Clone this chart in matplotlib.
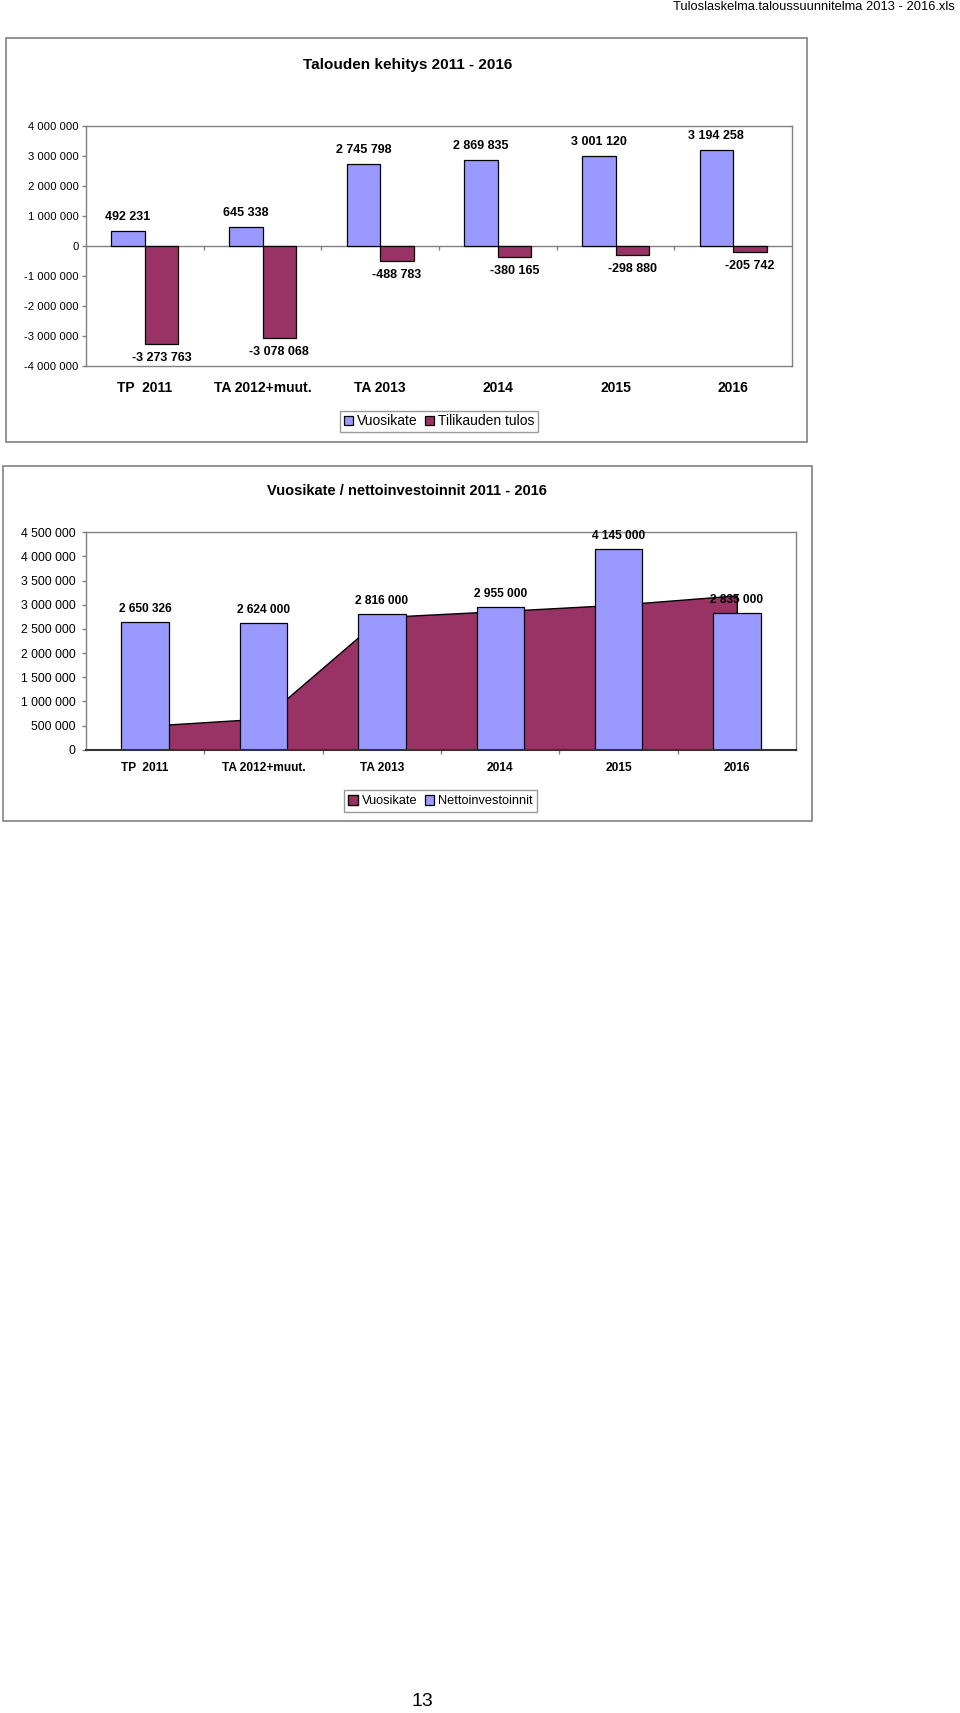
import numpy as np
import matplotlib
matplotlib.use("Agg")
import matplotlib.pyplot as plt
from matplotlib.patches import Rectangle

plt.rcParams["font.family"] = ["Liberation Sans", "DejaVu Sans"]

categories = ["TP  2011", "TA 2012+muut.", "TA 2013", "2014", "2015", "2016"]
vuosikate = [492231, 645338, 2745798, 2869835, 3001120, 3194258]
tilikauden_tulos = [-3273763, -3078068, -488783, -380165, -298880, -205742]
nettoinvestoinnit = [2650326, 2624000, 2816000, 2955000, 4145000, 2835000]

title1 = "Talouden kehitys 2011 - 2016"
title2 = "Vuosikate / nettoinvestoinnit 2011 - 2016"
header = "Tuloslaskelma.taloussuunnitelma 2013 - 2016.xls"
page_no = "13"

BLUE = "#9999FF"
MAROON = "#993366"
GRAY = "#808080"

W, H = 960, 1713


def fmt(v):
    return f"{int(v):,}".replace(",", " ")


def fx(px):
    return px / W


def fy(py):
    return 1 - py / H


def add_axes_px(left, top, right, bottom):
    return fig.add_axes([fx(left), fy(bottom), (right - left) / W, (bottom - top) / H])


def add_frame(left, top, right, bottom):
    fig.patches.append(Rectangle((fx(left), fy(bottom)), (right - left) / W, (bottom - top) / H,
                                 transform=fig.transFigure, fill=False, edgecolor=GRAY, lw=1.2))


fig = plt.figure(figsize=(W / 100, H / 100), dpi=100)

fig.text(fx(955), fy(7), header, ha="right", va="center", fontsize=9.3)
fig.text(fx(422.5), fy(1702), page_no, ha="center", va="center", fontsize=14)

# ---- chart 1: grouped bars ----
add_frame(5.7, 38.3, 807.3, 441.7)
fig.text(fx(408), fy(64.5), title1, ha="center", va="center", fontsize=11, fontweight="bold")

ax1 = add_axes_px(86, 126, 792, 366)
x = np.arange(len(categories))
w = 0.2857
b1 = ax1.bar(x - w / 2, vuosikate, w, color=BLUE, edgecolor="black", lw=0.9, label="Vuosikate", zorder=3)
b2 = ax1.bar(x + w / 2, tilikauden_tulos, w, color=MAROON, edgecolor="black", lw=0.9,
             label="Tilikauden tulos", zorder=3)
ax1.set_xlim(-0.5, 5.5)
ax1.set_ylim(-4e6, 4e6)
ax1.set_yticks(np.arange(-4e6, 4.1e6, 1e6))
ax1.set_yticklabels([fmt(v) for v in np.arange(-4e6, 4.1e6, 1e6)], fontsize=8.1)
ax1.axhline(0, color=GRAY, lw=1, zorder=2)
ax1.vlines(x[:-1] + 0.5, 0, -1.3e5, color=GRAY, lw=1, zorder=2)
ax1.set_xticks(x)
ax1.set_xticklabels(categories, fontsize=10, fontweight="bold")
ax1.tick_params(axis="x", length=0, pad=15.6)
for t in ax1.get_xticklabels():
    t.set_va("center")
ax1.tick_params(axis="y", length=3, width=1, color=GRAY, pad=2.2)
for s in ax1.spines.values():
    s.set_color(GRAY)
    s.set_linewidth(1)

for xi, v in zip(x, vuosikate):
    ax1.annotate(fmt(v), (xi - w / 2, v), xytext=(0, 10), textcoords="offset points",
                 ha="center", va="center", fontsize=9, fontweight="bold")
for xi, v in zip(x, tilikauden_tulos):
    ax1.annotate(fmt(v), (xi + w / 2, v), xytext=(0, -10), textcoords="offset points",
                 ha="center", va="center", fontsize=9, fontweight="bold")

leg1 = ax1.legend(handles=[b1, b2], loc="center", bbox_to_anchor=(fx(439), fy(421.3)),
                  bbox_transform=fig.transFigure, ncol=2, fontsize=10, frameon=True,
                  fancybox=False, edgecolor=GRAY, borderpad=0.25, handlelength=0.65,
                  handleheight=0.7, handletextpad=0.3, columnspacing=0.5)
leg1.get_frame().set_linewidth(1)

# ---- chart 2: area + bars ----
add_frame(3.3, 466, 811.7, 820.7)
fig.text(fx(407), fy(491), title2, ha="center", va="center", fontsize=10.5, fontweight="bold")

ax2 = add_axes_px(86, 532.3, 796, 749.7)
area = ax2.fill_between(x, vuosikate, color=MAROON, edgecolor="black", lw=1, zorder=1,
                        label="Vuosikate")
bars = ax2.bar(x, nettoinvestoinnit, 0.4, color=BLUE, edgecolor="black", lw=0.9, zorder=2,
               label="Nettoinvestoinnit")
ax2.set_xlim(-0.5, 5.5)
ax2.set_ylim(0, 4.5e6)
yt2 = np.arange(0, 4.51e6, 5e5)
ax2.set_yticks(yt2)
ax2.set_yticklabels([fmt(v) for v in yt2], fontsize=8.8)
ax2.set_xticks(x)
ax2.set_xticklabels(categories, fontsize=8.6, fontweight="bold")
ax2.set_xticks(x[:-1] + 0.5, minor=True)
ax2.tick_params(axis="x", which="major", length=0, pad=13.4)
ax2.tick_params(axis="x", which="minor", length=3, width=1, color=GRAY)
for t in ax2.get_xticklabels():
    t.set_va("center")
ax2.tick_params(axis="y", length=3, width=1, color=GRAY, pad=4.6)
for s in ax2.spines.values():
    s.set_color(GRAY)
    s.set_linewidth(1)
ax2.spines["bottom"].set_color("#333333")
ax2.spines["bottom"].set_linewidth(1.5)
ax2.spines["bottom"].set_zorder(3)

for xi, v in zip(x, nettoinvestoinnit):
    ax2.annotate(fmt(v), (xi, v), xytext=(0, 9.4), textcoords="offset points",
                 ha="center", va="center", fontsize=8.6, fontweight="bold", zorder=4)

leg2 = ax2.legend(handles=[area, bars], loc="center", bbox_to_anchor=(fx(440.5), fy(801)),
                  bbox_transform=fig.transFigure, ncol=2, fontsize=9.2, frameon=True,
                  fancybox=False, edgecolor=GRAY, borderpad=0.35, handlelength=0.75,
                  handleheight=0.8, handletextpad=0.3, columnspacing=0.6)
leg2.get_frame().set_linewidth(1)

fig.savefig("out.png", dpi=100)
